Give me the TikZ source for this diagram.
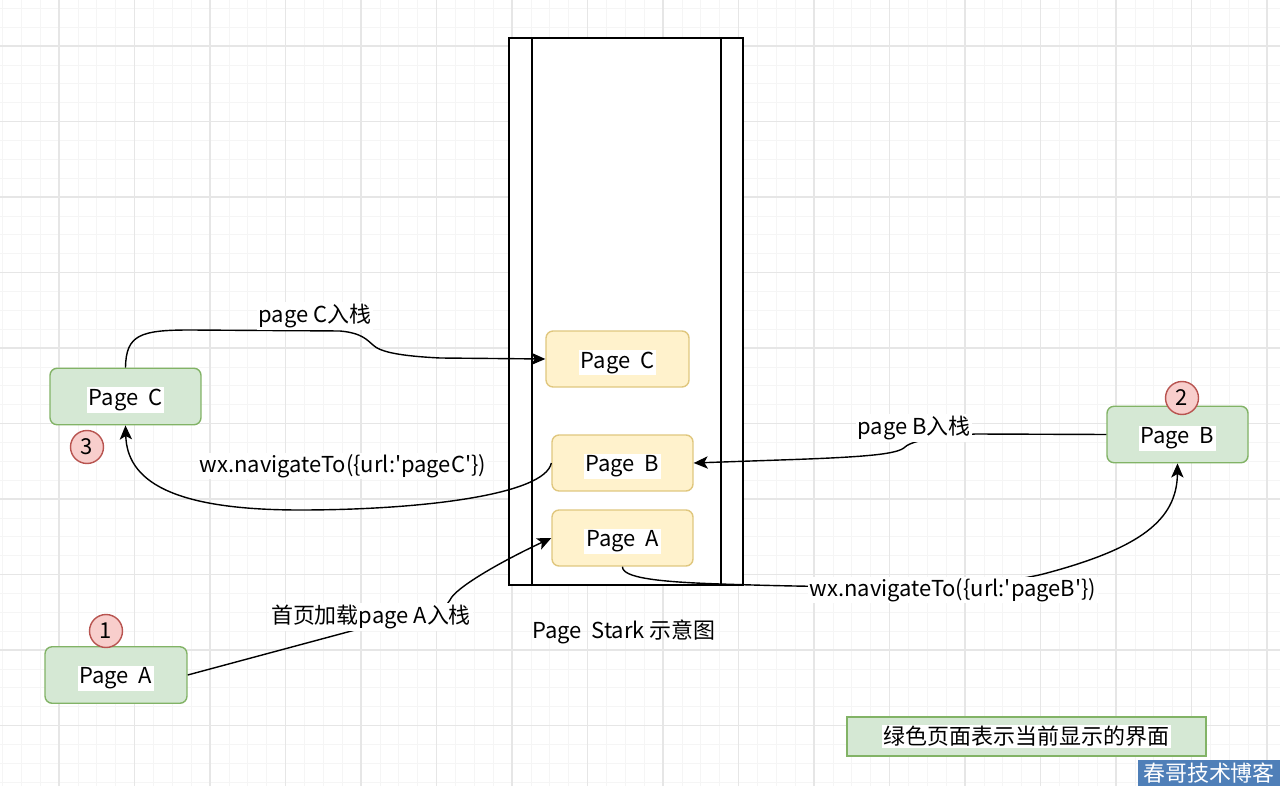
\documentclass[tikz,border=0pt]{standalone}
\usepackage{fontspec}
\setmainfont{Noto Sans CJK SC}
\usetikzlibrary{arrows.meta}

\definecolor{gridmajor}{HTML}{E6E6E6}
\definecolor{gridminor}{HTML}{F5F5F5}
\definecolor{greenfill}{HTML}{D5E8D4}
\definecolor{greenline}{HTML}{82B366}
\definecolor{yellowfill}{HTML}{FFF2CC}
\definecolor{yellowline}{HTML}{E0C77E}
\definecolor{redfill}{HTML}{F8CECC}
\definecolor{redline}{HTML}{B85450}
\definecolor{markblue}{HTML}{4F7FB8}

% white box behind the text, as in the drawing
\newcommand{\wbox}[1]{{\setlength{\fboxsep}{1pt}\colorbox{white}{#1}}}

\tikzset{
  txt/.style={font=\fontsize{12.5}{15}\selectfont},
  greenpage/.style={txt, draw=greenline, fill=greenfill, rounded corners=4pt,
    line width=0.8pt, minimum height=1.13cm, inner sep=0pt, text depth=0pt},
  yellowpage/.style={txt, draw=yellowline, fill=yellowfill, rounded corners=4pt,
    line width=0.8pt, minimum height=1.12cm, inner sep=0pt, text depth=0pt},
  numcircle/.style={txt, circle, draw=redline, fill=redfill, line width=0.8pt,
    minimum size=0.66cm, inner sep=0pt},
  edgelabel/.style={txt, fill=white, inner sep=1pt},
  link/.style={line width=0.8pt, -{Stealth[length=8pt,width=7pt,inset=2pt]}},
}

\begin{document}
\begin{tikzpicture}[x=0.02cm, y=-0.02cm]
\useasboundingbox (0,0) rectangle (1280,786);
\fill[white] (0,0) rectangle (1280,786);

% Draw the background grid
\foreach \i in {-3,...,68} {
  \draw[gridminor, line width=0.4pt] ({59+18.875*\i},0) -- ({59+18.875*\i},786);
}
\foreach \i in {-2,...,41} {
  \draw[gridminor, line width=0.4pt] (0,{46+18.875*\i}) -- (1280,{46+18.875*\i});
}
\foreach \i in {0,...,16} {
  \draw[gridmajor, line width=0.6pt] ({59+75.5*\i},0) -- ({59+75.5*\i},786);
}
\foreach \i in {0,...,9} {
  \draw[gridmajor, line width=0.6pt] (0,{46+75.5*\i}) -- (1280,{46+75.5*\i});
}

% Draw the page stack
\filldraw[fill=white, line width=0.9pt] (509,38) rectangle (743,585);
\draw[line width=0.9pt] (532,38) -- (532,585);
\draw[line width=0.9pt] (721,38) -- (721,585);
\node[txt] (stacktitle) at (624,632) {Page\ \ Stark 示意图};

% Pages inside the stack
\node[yellowpage, minimum width=2.86cm] (yC) at (617.5,359) {\wbox{Page\ \ C}};
\node[yellowpage, minimum width=2.82cm] (yB) at (622.5,463) {\wbox{Page\ \ B}};
\node[yellowpage, minimum width=2.82cm] (yA) at (622.5,538) {\wbox{Page\ \ A}};

% Pages on screen
\node[greenpage, minimum width=3.02cm] (gC) at (125.5,396.5) {\wbox{Page\ \ C}};
\node[greenpage, minimum width=2.82cm] (gB) at (1177.5,434.5) {\wbox{Page\ \ B}};
\node[greenpage, minimum width=2.84cm] (gA) at (116,675) {\wbox{Page\ \ A}};

% Step numbers
\node[numcircle] (c1) at (106,631) {1};
\node[numcircle] (c2) at (1182,398) {2};
\node[numcircle] (c3) at (87,447) {3};

% Connectors
\draw[link] (gA.east) -- (370,626) .. controls (420,612) and (445,612) .. (450,600)
  .. controls (455,588) and (500,562) .. (yA.west);
\node[edgelabel] (lA) at (371,617) {首页加载page A入栈};

\draw[link] (yA.south) .. controls (622,578) and (660,582) .. (720,584)
  .. controls (900,590) and (1000,586) .. (1047,573)
  .. controls (1140,548) and (1177,520) .. (gB.south);
\node[edgelabel] (lnavB) at (953,590)
  {wx.navigateTo(\{url:\textquotesingle pageB\textquotesingle\})};

\draw[link] (gB.west) -- (975,434) .. controls (955,436) and (915,438) .. (905,447)
  .. controls (898,454) and (870,457) .. (780,460) -- (yB.east);
\node[edgelabel] (lB) at (914,428) {page B入栈};

\draw[link] (yB.west) .. controls (545,495) and (420,510) .. (300,510)
  .. controls (170,510) and (127,480) .. (gC.south);
\node[edgelabel] (lnavC) at (343,466)
  {wx.navigateTo(\{url:\textquotesingle pageC\textquotesingle\})};

\draw[link] (gC.north) .. controls (126,335) and (140,330) .. (190,330) -- (340,331)
  .. controls (362,333) and (367,340) .. (373,345)
  .. controls (380,352) and (400,356) .. (440,358) -- (yC.west);
\node[edgelabel] (lC) at (315,316) {page C入栈};

% Legend and watermark
\node[txt, draw=greenline, fill=greenfill, line width=0.8pt, minimum width=7.18cm,
  minimum height=0.78cm, inner sep=0pt] (legend) at (1026.5,736.5)
  {\wbox{绿色页面表示当前显示的界面}};
\node[txt, fill=markblue, text=white, minimum width=2.84cm, minimum height=0.52cm,
  inner sep=0pt] (mark) at (1209,773) {春哥技术博客};
\end{tikzpicture}
\end{document}
